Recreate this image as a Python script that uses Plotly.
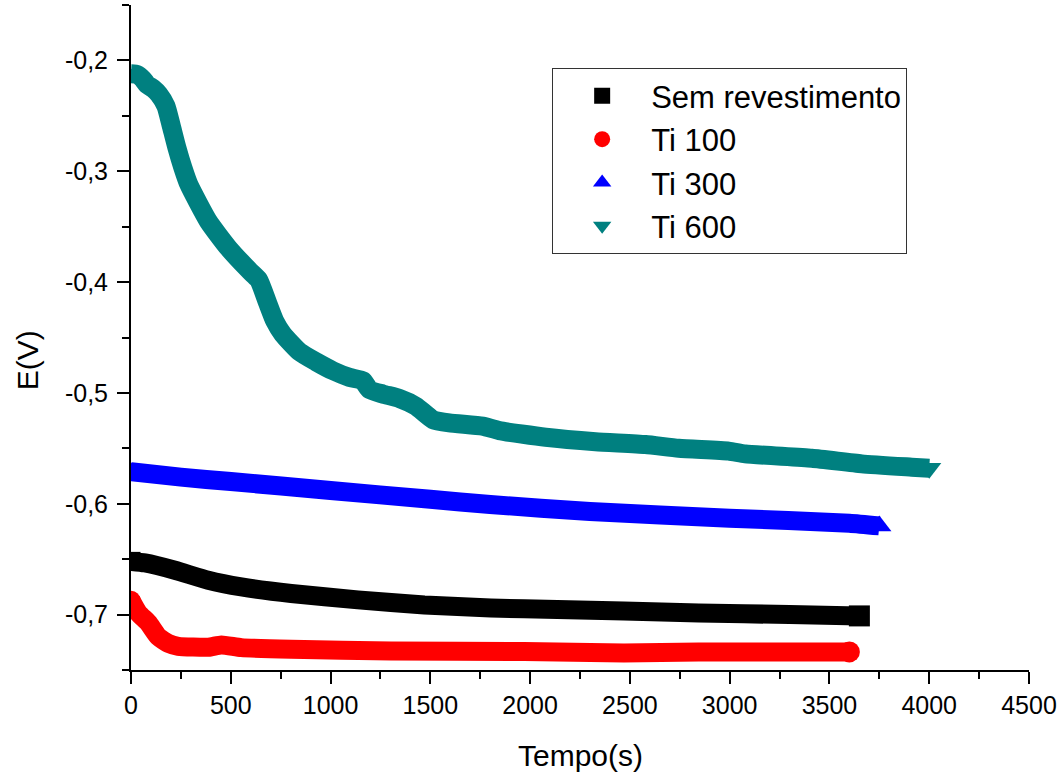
import plotly.graph_objects as go

# Open-circuit potential vs time for each coating condition
sem_t = [0, 70, 220, 387, 553, 803, 1137, 1470, 1803, 2137, 2470, 2845, 3300, 3650]
sem_e = [-0.652, -0.6534, -0.660, -0.669, -0.675, -0.681, -0.6867, -0.6913, -0.694,
         -0.6955, -0.6967, -0.6985, -0.700, -0.7012]

ti100_t = [0, 37, 87, 137, 187, 237, 387, 453, 553, 803, 1303, 1970, 2470, 2845, 3300, 3600]
ti100_e = [-0.687, -0.6985, -0.7075, -0.720, -0.726, -0.7286, -0.7295, -0.7274, -0.7298,
           -0.7313, -0.7328, -0.7334, -0.7346, -0.7337, -0.7337, -0.7337]

ti300_t = [0, 250, 500, 1000, 1500, 1800, 2300, 3000, 3600, 3750]
ti300_e = [-0.571, -0.576, -0.580, -0.588, -0.596, -0.6007, -0.607, -0.613, -0.6175, -0.620]

ti600_t = [0, 30, 60, 80, 110, 140, 175, 200, 230, 260, 290, 387, 487, 595, 640, 683,
           720, 761, 845, 928, 1012, 1095, 1162, 1195, 1262, 1345, 1428, 1512, 1595,
           1762, 1845, 2078, 2328, 2578, 2745, 2995, 3078, 3412, 3662, 3912, 4000]
ti600_e = [-0.212, -0.2126, -0.217, -0.2217, -0.2253, -0.2307, -0.2412, -0.2578, -0.2788,
           -0.2968, -0.312, -0.345, -0.369, -0.390, -0.398, -0.418, -0.435, -0.447,
           -0.463, -0.472, -0.480, -0.486, -0.489, -0.497, -0.501, -0.505, -0.512,
           -0.524, -0.527, -0.530, -0.534, -0.540, -0.544, -0.5466, -0.550, -0.5525,
           -0.555, -0.559, -0.564, -0.567, -0.568]

series_names = ["Sem revestimento", "Ti 100", "Ti 300", "Ti 600"]
series_colors = ["#000000", "#FF0000", "#0000FF", "#008080"]
series_symbols = ["square", "circle", "triangle-up", "triangle-down"]

y_tick_vals = [-0.7, -0.6, -0.5, -0.4, -0.3, -0.2]
y_tick_text = ["-0,7", "-0,6", "-0,5", "-0,4", "-0,3", "-0,2"]
x_tick_vals = [0, 500, 1000, 1500, 2000, 2500, 3000, 3500, 4000, 4500]
x_tick_text = [str(v) for v in x_tick_vals]

FONT = "Liberation Sans, Arial, sans-serif"
BAND = 19

fig = go.Figure()
all_series = [(sem_t, sem_e), (ti100_t, ti100_e), (ti300_t, ti300_e), (ti600_t, ti600_e)]
for (t, e), name, color, sym in zip(all_series, series_names, series_colors, series_symbols):
    n = len(t)
    # thick band, with the series symbol marking where it starts and ends
    sizes = [BAND] + [0] * (n - 2) + [BAND + 2]
    fig.add_trace(go.Scatter(
        x=t, y=e, mode="lines+markers", name=name, showlegend=False,
        line=dict(color=color, width=BAND, shape="spline", smoothing=0.5),
        marker=dict(symbol=sym, color=color, size=sizes, opacity=1, line=dict(width=0)),
        opacity=1, hoverinfo="skip",
    ))

# legend entries (symbol only)
for name, color, sym in zip(series_names, series_colors, series_symbols):
    fig.add_trace(go.Scatter(
        x=[None], y=[None], mode="markers", name=name,
        marker=dict(symbol=sym, color=color, size=16, line=dict(width=0)),
    ))

axis_common = dict(
    showline=True, linecolor="black", linewidth=2, mirror=False,
    showgrid=False, zeroline=False,
    ticks="outside", ticklen=12, tickwidth=2, tickcolor="black",
    tickfont=dict(family=FONT, size=25, color="black"),
)

fig.update_xaxes(
    range=[0, 4500], tickmode="array", tickvals=x_tick_vals, ticktext=x_tick_text,
    minor=dict(ticks="outside", ticklen=7, tickwidth=2, tickcolor="black", dtick=250, tick0=0),
    **axis_common,
)
fig.update_yaxes(
    range=[-0.75, -0.15], tickmode="array", tickvals=y_tick_vals, ticktext=y_tick_text,
    minor=dict(ticks="outside", ticklen=7, tickwidth=2, tickcolor="black", dtick=0.05, tick0=-0.75),
    ticklabelstandoff=4,
    **axis_common,
)

fig.update_layout(
    width=1062, height=776,
    margin=dict(l=131, r=31, t=5, b=106),
    paper_bgcolor="white", plot_bgcolor="white",
    font=dict(family=FONT, color="black"),
    showlegend=True,
    legend=dict(
        x=0.469, y=0.905, xanchor="left", yanchor="top",
        bgcolor="white", bordercolor="#333333", borderwidth=1,
        font=dict(family=FONT, size=31, color="black"),
        itemwidth=88, tracegroupgap=0,
    ),
    annotations=[
        dict(text="E(V)", xref="paper", yref="paper", x=-0.1156, y=0.466,
             xanchor="center", yanchor="middle", textangle=-90, showarrow=False,
             font=dict(family=FONT, size=30, color="black")),
        dict(text="Tempo(s)", xref="paper", yref="paper", x=0.5, y=-0.128,
             xanchor="center", yanchor="middle", showarrow=False,
             font=dict(family=FONT, size=30, color="black")),
    ],
)

fig.write_html("out.html")
